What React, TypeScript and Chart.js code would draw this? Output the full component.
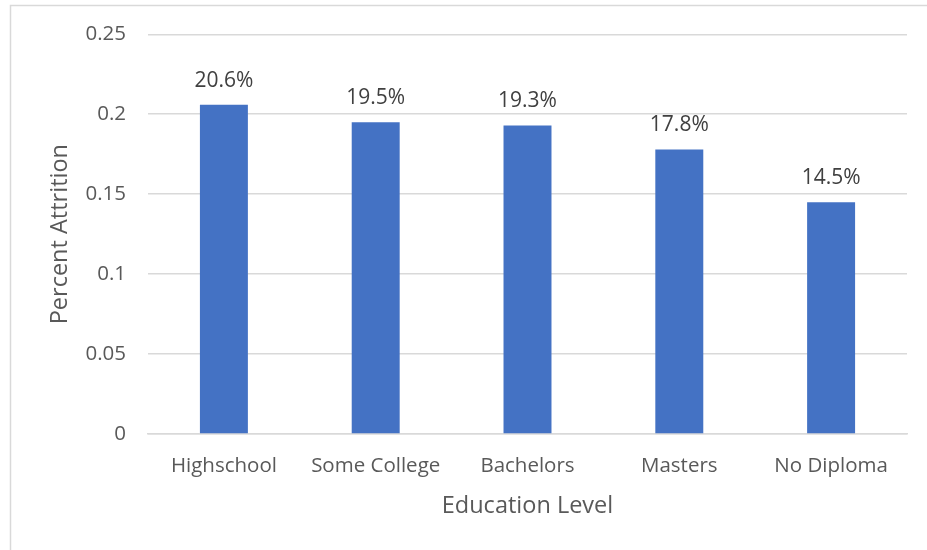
import React, { useEffect, useRef } from "react";
import { Chart, registerables } from "chart.js";

Chart.register(...registerables);

const categories = ["Highschool", "Some College", "Bachelors", "Masters", "No Diploma"];
const attrition = [0.206, 0.195, 0.193, 0.178, 0.145];
const valueLabels = ["20.6%", "19.5%", "19.3%", "17.8%", "14.5%"];
const yTickLabels = ["0", "0.05", "0.1", "0.15", "0.2", "0.25"];

const FONT = "'Open Sans', 'Noto Sans', sans-serif";

const framePlugin = {
  id: "frame",
  beforeDraw(chart: any) {
    const ctx = chart.ctx;
    ctx.save();
    ctx.fillStyle = "#ffffff";
    ctx.fillRect(0, 0, chart.width, chart.height);
    ctx.strokeStyle = "#d9d9d9";
    ctx.lineWidth = 1.5;
    ctx.beginPath();
    ctx.moveTo(10.5, chart.height);
    ctx.lineTo(10.5, 5.5);
    ctx.lineTo(chart.width, 5.5);
    ctx.stroke();
    ctx.restore();
  },
};

const labelPlugin = {
  id: "valueLabels",
  afterDatasetsDraw(chart: any) {
    const ctx = chart.ctx;
    const meta = chart.getDatasetMeta(0);
    ctx.save();
    ctx.font = `21px ${FONT}`;
    ctx.fillStyle = "#404040";
    ctx.textAlign = "center";
    ctx.textBaseline = "middle";
    meta.data.forEach((bar: any, i: number) => {
      ctx.fillText(valueLabels[i], bar.x, bar.y - 24);
    });
    ctx.restore();
  },
};

export default function App() {
  const ref = useRef<HTMLCanvasElement | null>(null);
  useEffect(() => {
    document.body.style.margin = "0";
    const chart = new Chart(ref.current as HTMLCanvasElement, {
      type: "bar",
      data: {
        labels: categories,
        datasets: [
          {
            data: attrition,
            backgroundColor: "#4472C4",
            categoryPercentage: 1,
            barPercentage: 0.316,
          },
        ],
      },
      options: {
        animation: false,
        responsive: false,
        maintainAspectRatio: false,
        layout: { padding: { left: 0, right: 20, top: 34, bottom: 0 } },
        plugins: { legend: { display: false }, tooltip: { enabled: false } },
        scales: {
          x: {
            afterFit: (s: any) => {
              s.height = 116;
            },
            grid: { display: false },
            border: { display: true, color: "#d9d9d9", width: 1.5 },
            ticks: { color: "#595959", font: { size: 20.5, family: FONT }, padding: 12 },
            title: {
              display: true,
              text: "Education Level",
              color: "#595959",
              font: { size: 23.5, family: FONT },
              padding: { top: 0, bottom: 30 },
            },
          },
          y: {
            min: 0,
            max: 0.25,
            afterFit: (s: any) => {
              s.width = 148;
            },
            ticks: {
              stepSize: 0.05,
              color: "#595959",
              font: { size: 20.5, family: FONT },
              padding: 22,
              callback: (_v: any, i: number) => yTickLabels[i],
            },
            grid: { color: "#d9d9d9", lineWidth: 1.5, drawTicks: false },
            border: { display: false },
            title: {
              display: true,
              text: "Percent Attrition",
              color: "#595959",
              font: { size: 23.5, family: FONT },
              padding: { top: 46, bottom: 0 },
            },
          },
        },
      },
      plugins: [framePlugin, labelPlugin],
    });
    return () => chart.destroy();
  }, []);
  return (
    <div style={{ width: 927, height: 550 }}>
      <canvas ref={ref} width={927} height={550} style={{ display: "block" }} />
    </div>
  );
}
